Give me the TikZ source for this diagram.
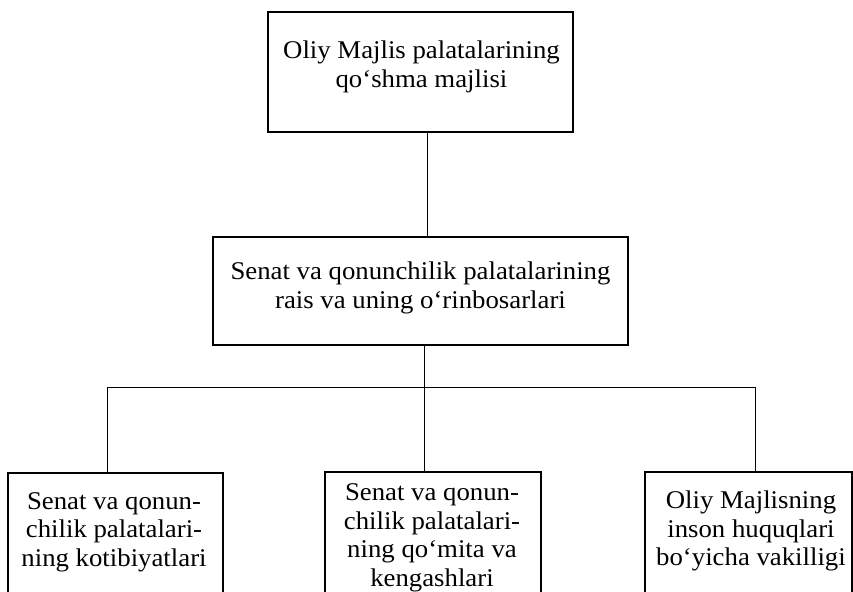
\documentclass[tikz,border=0pt]{standalone}
\usepackage{fontspec}
\setmainfont{Liberation Serif}[FakeStretch=1.05]
\begin{document}
\begin{tikzpicture}[x=1pt,y=-1pt,
  box/.style={draw,line width=1.2pt,rectangle,inner sep=0pt},
  lbl/.style={align=center,inner sep=0pt,font=\fontsize{25.5}{28.5}\selectfont},
  conn/.style={line width=0.8pt}]
\useasboundingbox (0,0) rectangle (853,591);
\clip (0,0) rectangle (853,591);
% boxes
\node[box,minimum width=305pt,minimum height=120pt] (topbox) at (420.5,72) {};
\node[box,minimum width=415pt,minimum height=108pt] (midbox) at (420.5,291) {};
\node[box,minimum width=215pt,minimum height=160pt] (lbox) at (115.5,553) {};
\node[box,minimum width=216pt,minimum height=160pt] (cbox) at (433,552) {};
\node[box,minimum width=207pt,minimum height=160pt] (rbox) at (748.5,552) {};
% labels
\node[lbl] (ttop) at (421.5,67) {Oliy Majlis palatalarining\\qo‘shma majlisi};
\node[lbl] (tmid) at (420.5,288) {Senat va qonunchilik palatalarining\\rais va uning o‘rinbosarlari};
\node[lbl] (tl) at (114,532) {Senat va qonun-\\chilik palatalari-\\ning kotibiyatlari};
\node[lbl] (tc) at (432,538) {Senat va qonun-\\chilik palatalari-\\ning qo‘mita va\\kengashlari};
\node[lbl] (tr) at (751,531) {Oliy Majlisning\\inson huquqlari\\bo‘yicha vakilligi};
% connector coordinates
\coordinate (c1) at (427,0);
\coordinate (c2) at (424,0);
\coordinate (busL) at (107,387);
\coordinate (busR) at (755,387);
\coordinate (busM) at (424,387);
% connectors
\draw[conn] (topbox.south -| c1) -- (midbox.north -| c1);
\draw[conn] (midbox.south -| c2) -- (busM);
\draw[conn] (busL) -- (busR);
\draw[conn] (busL) -- (lbox.north -| busL);
\draw[conn] (busM) -- (cbox.north -| busM);
\draw[conn] (busR) -- (rbox.north -| busR);
\end{tikzpicture}
\end{document}
